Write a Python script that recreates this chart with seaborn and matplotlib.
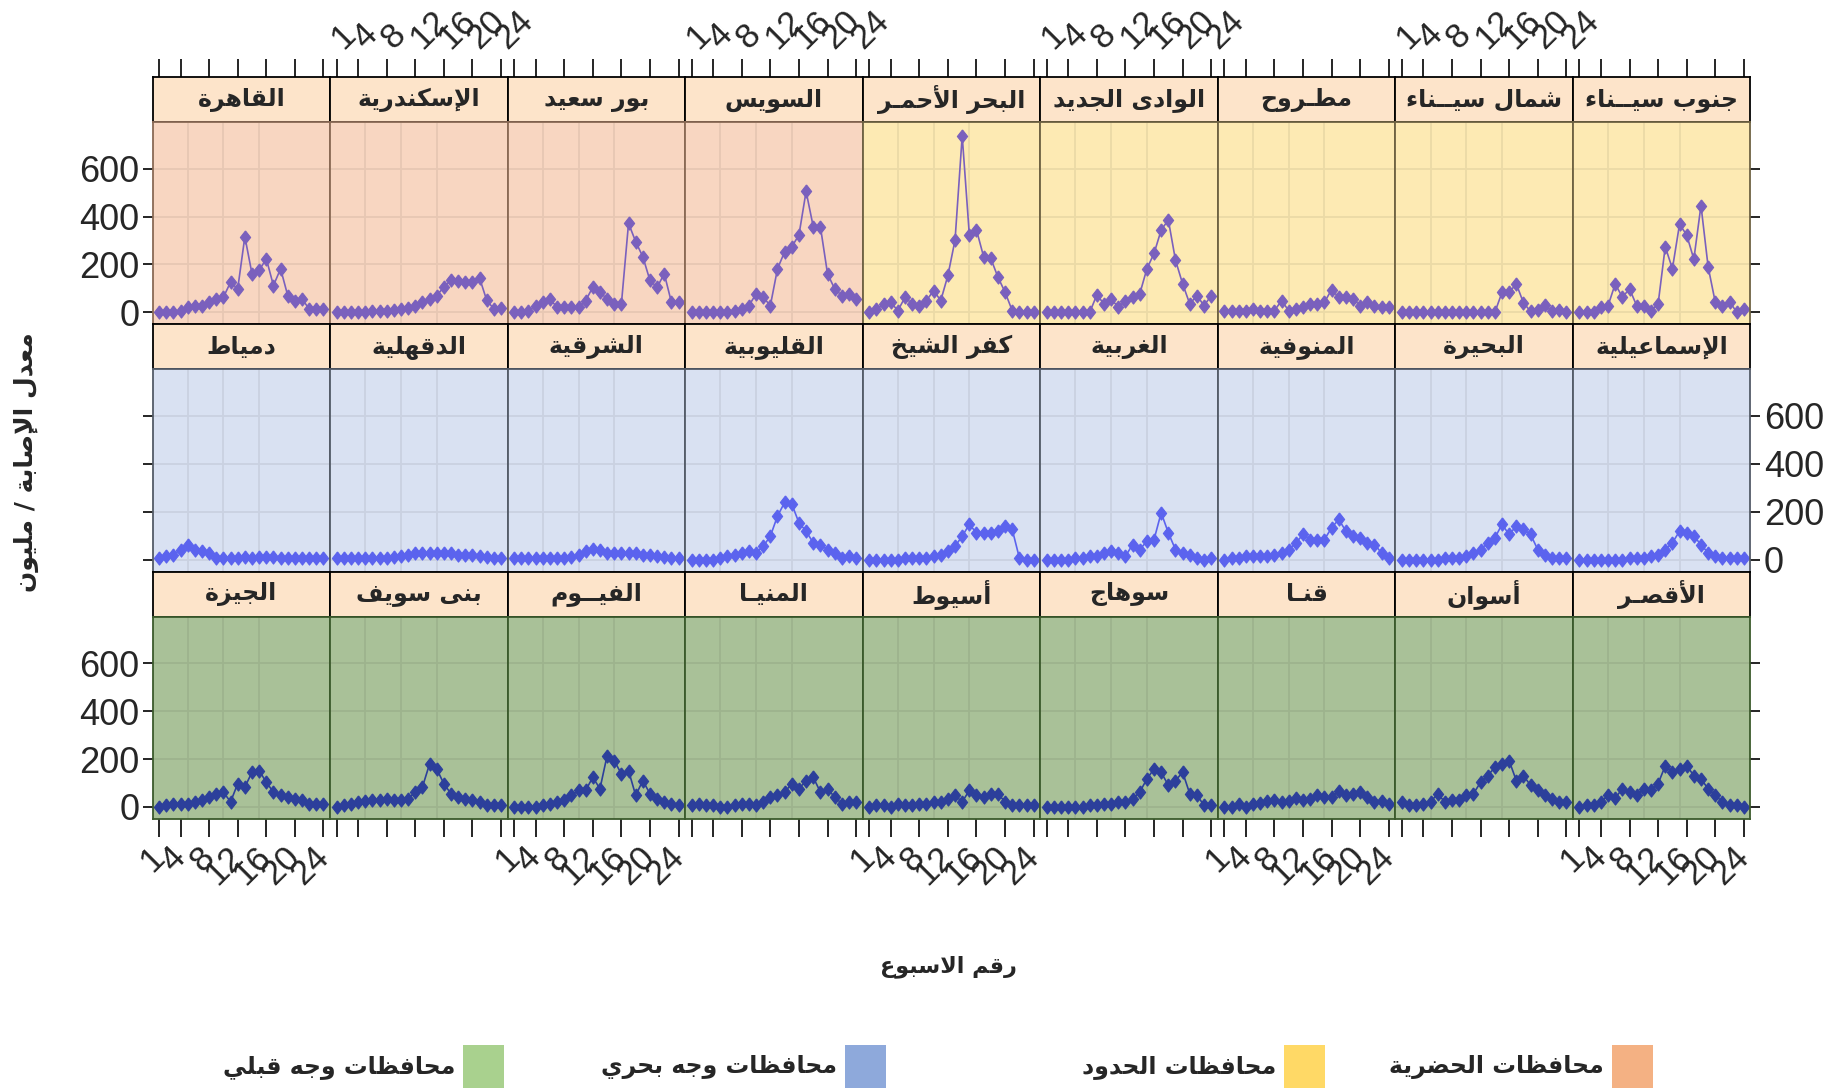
import numpy as np
import pandas as pd
import seaborn as sns
import matplotlib.pyplot as plt
from matplotlib import font_manager, colors
from matplotlib.patches import Rectangle

# weeks 1..24
weeks = list(range(1, 25))
tick_weeks = [1, 4, 8, 12, 16, 20, 24]

# row 1: urban (first 4) + border governorates
row1_names = ["القاهرة", "الإسكندرية", "بور سعيد", "السويس", "البحر الأحمـر",
              "الوادى الجديد", "مطـروح", "شمال سيــناء", "جنوب سيــناء"]
row1_groups = ["urban"] * 4 + ["border"] * 5
row1_rates = [
    [0, 0, 0, 7, 21, 28, 28, 42, 56, 63, 126, 98, 316, 161, 175, 224, 112, 182, 70, 49, 56, 14, 14, 14],
    [0, 0, 0, 0, 3, 5, 7, 7, 10, 14, 20, 28, 45, 56, 70, 105, 135, 130, 125, 125, 143, 50, 14, 20],
    [0, 0, 7, 28, 42, 56, 21, 21, 21, 21, 49, 105, 84, 56, 35, 35, 372, 295, 232, 133, 105, 161, 42, 42],
    [0, 0, 0, 0, 0, 0, 7, 14, 28, 77, 63, 28, 182, 253, 274, 323, 505, 358, 358, 161, 98, 70, 77, 56],
    [0, 14, 35, 42, 7, 63, 35, 28, 49, 91, 49, 154, 302, 737, 323, 344, 232, 225, 147, 84, 7, 0, 0, 0],
    [0, 0, 0, 0, 0, 0, 0, 73, 35, 56, 21, 49, 63, 77, 182, 246, 344, 386, 218, 119, 35, 70, 28, 70],
    [7, 7, 7, 7, 14, 7, 7, 7, 49, 7, 14, 21, 35, 35, 42, 95, 63, 63, 56, 28, 42, 28, 21, 21],
    [0, 0, 0, 0, 0, 0, 0, 0, 0, 0, 0, 0, 0, 0, 83, 83, 119, 40, 4, 11, 29, 4, 11, 0],
    [0, 0, 0, 21, 28, 119, 63, 98, 28, 28, 7, 35, 274, 182, 368, 323, 222, 446, 190, 42, 28, 45, 0, 14],
]

# row 2: lower egypt
row2_names = ["دمياط", "الدقهلية", "الشرقية", "القليوبية", "كفر الشيخ",
              "الغربية", "المنوفية", "البحيرة", "الإسماعيلية"]
row2_groups = ["lower"] * 9
row2_rates = [
    [7, 14, 21, 42, 63, 42, 35, 28, 7, 7, 7, 7, 10, 7, 10, 10, 10, 7, 7, 7, 7, 7, 7, 7],
    [7, 7, 7, 7, 7, 7, 7, 7, 10, 14, 21, 28, 28, 28, 28, 28, 28, 21, 21, 21, 14, 10, 7, 7],
    [7, 7, 7, 7, 7, 7, 7, 7, 10, 21, 35, 45, 42, 28, 28, 28, 28, 28, 21, 21, 14, 10, 7, 7],
    [0, 0, 0, 0, 7, 14, 21, 28, 35, 28, 56, 98, 182, 239, 232, 154, 119, 70, 63, 42, 28, 7, 14, 7],
    [0, 0, 0, 0, 0, 7, 7, 7, 7, 14, 21, 35, 56, 98, 147, 112, 112, 112, 119, 140, 126, 7, 0, 0],
    [0, 0, 0, 0, 7, 7, 14, 14, 28, 35, 28, 14, 63, 42, 77, 84, 196, 112, 42, 28, 21, 7, 0, 7],
    [0, 7, 7, 14, 14, 14, 14, 21, 28, 42, 70, 105, 84, 84, 84, 133, 168, 119, 98, 91, 70, 63, 28, 7],
    [0, 0, 0, 0, 0, 0, 7, 7, 7, 14, 28, 42, 70, 91, 147, 105, 140, 126, 105, 42, 21, 7, 7, 7],
    [0, 0, 0, 0, 0, 0, 0, 7, 7, 7, 14, 21, 42, 70, 119, 112, 98, 63, 28, 14, 7, 7, 7, 7],
]

# row 3: upper egypt
row3_names = ["الجيزة", "بنى سويف", "الفيــوم", "المنيـا", "أسيوط",
              "سوهاج", "قنـا", "أسوان", "الأقصـر"]
row3_groups = ["upper"] * 9
row3_rates = [
    [0, 7, 14, 14, 14, 21, 28, 41, 55, 62, 21, 97, 83, 145, 152, 103, 62, 48, 41, 34, 28, 14, 14, 14],
    [0, 7, 14, 21, 23, 28, 28, 34, 28, 28, 34, 62, 83, 179, 159, 97, 55, 41, 34, 28, 21, 7, 7, 7],
    [0, 0, 0, 0, 7, 14, 21, 28, 48, 69, 69, 124, 76, 214, 193, 138, 152, 48, 110, 55, 34, 21, 14, 7],
    [7, 14, 7, 7, 0, 0, 7, 14, 14, 7, 21, 41, 48, 62, 97, 76, 110, 124, 62, 76, 41, 14, 21, 21],
    [0, 7, 7, 0, 14, 7, 7, 14, 14, 21, 21, 34, 48, 21, 69, 48, 41, 55, 55, 21, 7, 7, 7, 7],
    [0, 0, 0, 0, 0, 0, 7, 7, 14, 14, 21, 21, 34, 62, 117, 159, 145, 90, 110, 145, 55, 48, 7, 7],
    [0, 0, 14, 0, 14, 16, 23, 27, 20, 23, 37, 30, 34, 48, 41, 41, 68, 48, 54, 61, 41, 20, 23, 14],
    [21, 7, 7, 14, 21, 55, 21, 28, 28, 48, 55, 103, 131, 165, 179, 193, 110, 131, 90, 69, 48, 34, 21, 21],
    [0, 7, 7, 21, 48, 37, 76, 62, 48, 76, 69, 97, 172, 145, 159, 172, 131, 117, 76, 48, 21, 7, 7, 0],
]

legend_labels = ["محافظات الحضرية", "محافظات الحدود", "محافظات وجه بحري", "محافظات وجه قبلي"]
legend_colors = ["#F4B183", "#FFD966", "#8EA9DB", "#A9D18E"]

bg = {"urban": "#F8D6C1", "border": "#FDEAB3", "lower": "#D9E1F2", "upper": "#A9C198"}
edge = {"urban": "#8A6A55", "border": "#6E6243", "lower": "#545B68", "upper": "#3B5A2C"}
line = {"urban": "#7A60BD", "border": "#7A60BD", "lower": "#5B63EE", "upper": "#2C3F9B"}
strip_color = "#FDE4CA"


# --- minimal arabic shaping (matplotlib has no text shaping) ---
DUAL = {'ئ': 0xFE89, 'ب': 0xFE8F, 'ت': 0xFE95, 'ث': 0xFE99, 'ج': 0xFE9D, 'ح': 0xFEA1,
        'خ': 0xFEA5, 'س': 0xFEB1, 'ش': 0xFEB5, 'ص': 0xFEB9, 'ض': 0xFEBD, 'ط': 0xFEC1,
        'ظ': 0xFEC5, 'ع': 0xFEC9, 'غ': 0xFECD, 'ف': 0xFED1, 'ق': 0xFED5, 'ك': 0xFED9,
        'ل': 0xFEDD, 'م': 0xFEE1, 'ن': 0xFEE5, 'ه': 0xFEE9, 'ي': 0xFEF1}
RIGHT = {'آ': 0xFE81, 'أ': 0xFE83, 'ؤ': 0xFE85, 'إ': 0xFE87, 'ا': 0xFE8D, 'ة': 0xFE93,
         'د': 0xFEA9, 'ذ': 0xFEAB, 'ر': 0xFEAD, 'ز': 0xFEAF, 'و': 0xFEED, 'ى': 0xFEEF}
LAM_ALEF = {'آ': 0xFEF5, 'أ': 0xFEF7, 'إ': 0xFEF9, 'ا': 0xFEFB}
TATWEEL = 'ـ'


def shape(text):
    chars = []
    i = 0
    while i < len(text):
        if text[i] == 'ل' and i + 1 < len(text) and text[i + 1] in LAM_ALEF:
            chars.append(('LA', text[i + 1]))
            i += 2
        else:
            chars.append(text[i])
            i += 1

    def joins_next(c):
        return c == TATWEEL or (not isinstance(c, tuple) and c in DUAL)

    def joins_prev(c):
        return isinstance(c, tuple) or c == TATWEEL or c in DUAL or c in RIGHT

    out = []
    for k, c in enumerate(chars):
        p = k > 0 and joins_next(chars[k - 1]) and joins_prev(c)
        n = k + 1 < len(chars) and joins_next(c) and joins_prev(chars[k + 1])
        if isinstance(c, tuple):
            out.append(chr(LAM_ALEF[c[1]] + (1 if p else 0)))
        elif c in DUAL:
            out.append(chr(DUAL[c] + (3 if p and n else 1 if p else 2 if n else 0)))
        elif c in RIGHT:
            out.append(chr(RIGHT[c] + (1 if p else 0)))
        else:
            out.append(c)
    return ''.join(reversed(out))


# long table
rows = [(row1_names, row1_groups, row1_rates),
        (row2_names, row2_groups, row2_rates),
        (row3_names, row3_groups, row3_rates)]
recs = []
for names, groups, rates in rows:
    for name, g, vals in zip(names, groups, rates):
        for w, v in zip(weeks, vals):
            recs.append((name, g, w, v))
df = pd.DataFrame(recs, columns=["province", "group", "week", "rate"])

sns.set_theme(style="white")
fnames = {f.name for f in font_manager.fontManager.ttflist}
num_font = "Liberation Sans Narrow" if "Liberation Sans Narrow" in fnames else "Liberation Sans"
plt.rcParams['font.family'] = [num_font, 'DejaVu Sans']
AR = ['DejaVu Sans']

W, H = 1835, 1091
X0, CW = 152.5, 177.55
Y0, SH, PH = 77, 45, 202.3
XLIM = (0.08, 24.92)
YLIM = (-50, 795)
diamond = [(0, 1), (0.78, 0), (0, -1), (-0.78, 0), (0, 1)]


def box(x, y, w, h):
    return [x / W, 1 - (y + h) / H, w / W, h / H]


fig = plt.figure(figsize=(W / 100, H / 100), dpi=100)

for r, (names, groups, rates) in enumerate(rows):
    top = Y0 + r * (SH + PH)
    for c, name in enumerate(names):
        g = groups[c]
        # strip
        sax = fig.add_axes(box(X0 + c * CW, top, CW, SH))
        sax.set_facecolor(strip_color)
        sax.set_xlim(XLIM)
        sax.set_yticks([])
        for s in sax.spines.values():
            s.set_color("black")
            s.set_linewidth(1.3)
        sax.text(0.5, 0.5, shape(name), transform=sax.transAxes, ha="center", va="center",
                 fontsize=17, fontweight="bold", family=AR)
        if r == 0:
            sax.set_xticks(tick_weeks)
            sax.tick_params(axis="x", bottom=False, labelbottom=False, top=True,
                            labeltop=(c % 2 == 1), length=13, width=1.2, color="black",
                            direction="out", pad=11, labelsize=25, labelrotation=45)
            for lab in sax.xaxis.get_majorticklabels():
                lab.set_ha("left")
                lab.set_va("center")
                lab.set_rotation_mode("anchor")
        else:
            sax.set_xticks([])

        # panel
        ax = fig.add_axes(box(X0 + c * CW, top + SH, CW, PH))
        sub = df[df["province"] == name]
        sns.lineplot(data=sub, x="week", y="rate", ax=ax, color=line[g], errorbar=None,
                     marker=diamond, markersize=9.5, markeredgecolor=line[g],
                     markeredgewidth=0.8, linewidth=1.2)
        ax.set_facecolor(bg[g])
        ax.set_xlim(XLIM)
        ax.set_ylim(YLIM)
        ax.set_xlabel("")
        ax.set_ylabel("")
        gc = np.array(colors.to_rgb(bg[g])) * 0.93
        ax.set_xticks(tick_weeks)
        ax.set_xticks([5, 10, 15, 20], minor=True)
        ax.set_yticks([0, 200, 400, 600])
        ax.set_axisbelow(True)
        ax.grid(axis="x", which="minor", color=gc, linewidth=1.3)
        ax.grid(axis="y", which="major", color=gc, linewidth=1.3)
        ax.tick_params(which="minor", length=0)
        for s in ax.spines.values():
            s.set_color(edge[g])
            s.set_linewidth(1.3)

        if r == 2:
            ax.tick_params(axis="x", bottom=True, labelbottom=(c % 2 == 0), length=13,
                           width=1.2, color="black", direction="out", pad=11,
                           labelsize=25, labelrotation=45)
            for lab in ax.xaxis.get_majorticklabels():
                lab.set_ha("right")
                lab.set_va("center")
                lab.set_rotation_mode("anchor")
        else:
            ax.tick_params(axis="x", bottom=False, labelbottom=False)

        ax.tick_params(axis="y", left=(c == 0), labelleft=(c == 0 and r != 1),
                       right=(c == 8), labelright=(c == 8 and r == 1),
                       length=7.5, width=1.2, color="black", direction="out",
                       pad=2, labelsize=26)

fig.text(26 / W, 1 - 462 / H, shape("معدل الإصابة / مليون"), rotation=90, ha="center",
         va="center", fontsize=18, fontweight="bold", family=AR)
fig.text(948 / W, 1 - 967 / H, shape("رقم الاسبوع"), ha="center", va="center",
         fontsize=16, fontweight="bold", family=AR)

# legend
rect_x = [1612, 1284, 845, 463]
for lx, lab, col in zip(rect_x, legend_labels, legend_colors):
    fig.patches.append(Rectangle((lx / W, 1 - 1088 / H), 41 / W, 43 / H,
                                 transform=fig.transFigure, facecolor=col, edgecolor="none"))
    fig.text((lx - 8) / W, 1 - 1067 / H, shape(lab), ha="right", va="center",
             fontsize=17, fontweight="bold", family=AR)

fig.savefig("out.png", dpi=100)
